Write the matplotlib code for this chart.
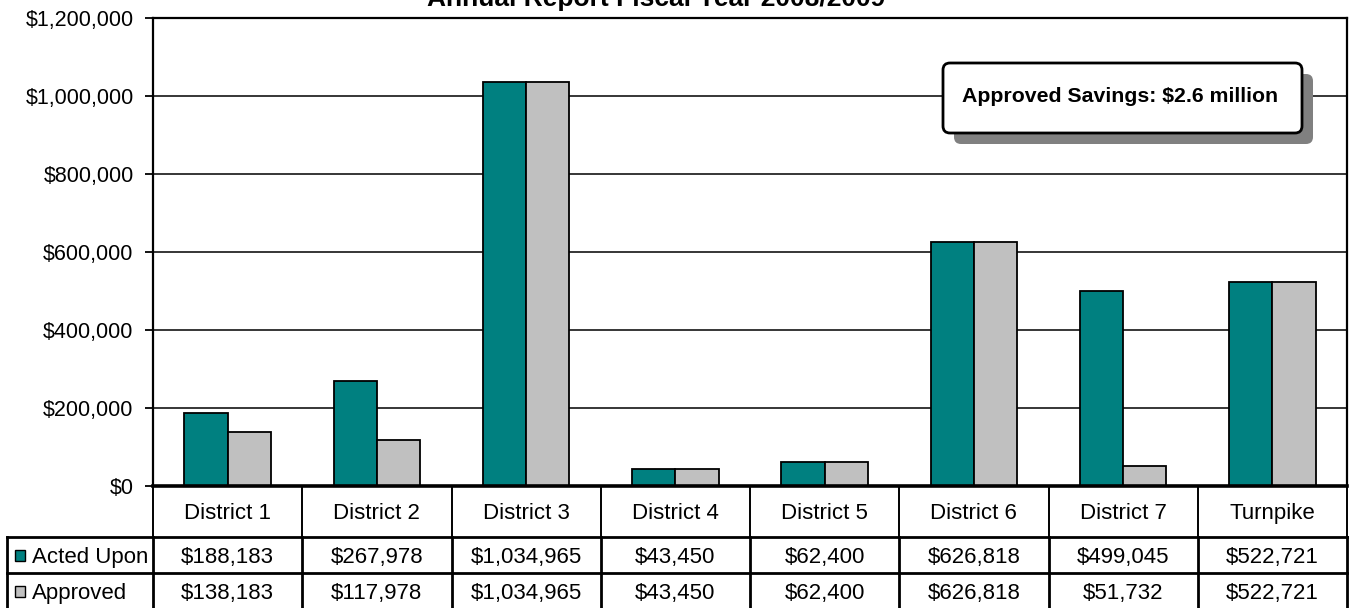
import matplotlib
matplotlib.use("Agg")
import matplotlib.pyplot as plt
import numpy as np
from matplotlib.patches import FancyBboxPatch, Rectangle
from matplotlib.lines import Line2D
from matplotlib.transforms import blended_transform_factory
from matplotlib.ticker import FuncFormatter, MultipleLocator

categories = ["District 1", "District 2", "District 3", "District 4",
              "District 5", "District 6", "District 7", "Turnpike"]
acted_upon = [188183, 267978, 1034965, 43450, 62400, 626818, 499045, 522721]
approved = [138183, 117978, 1034965, 43450, 62400, 626818, 51732, 522721]
series_names = ["Acted Upon", "Approved"]
title = "Annual Report Fiscal Year 2008/2009"
note = "Approved Savings: $2.6 million"

TEAL = "#008080"
GREY = "#C0C0C0"

plt.rcParams['font.family'] = ['Liberation Sans', 'DejaVu Sans']

W, H = 1353, 608
fig = plt.figure(figsize=(W / 100, H / 100), dpi=100)

def fy(py):  # pixel from top -> figure fraction
    return (H - py) / H

def fx(px):
    return px / W

ax_l, ax_r, ax_t, ax_b = 153, 1347, 18, 486
ax = fig.add_axes([fx(ax_l), fy(ax_b), fx(ax_r - ax_l), (ax_b - ax_t) / H])

x = np.arange(len(categories))
bw = 0.29
ax.bar(x - bw / 2, acted_upon, bw, color=TEAL, edgecolor="black", linewidth=1.3, zorder=3)
ax.bar(x + bw / 2, approved, bw, color=GREY, edgecolor="black", linewidth=1.3, zorder=3)

ax.set_xlim(-0.5, len(categories) - 0.5)
ax.set_ylim(0, 1200000)
ax.yaxis.set_major_locator(MultipleLocator(200000))
ax.yaxis.set_major_formatter(FuncFormatter(lambda v, p: "${:,.0f}".format(v)))
ax.set_xticks([])
ax.tick_params(axis='y', direction='out', length=6, width=1.3, labelsize=15.5, pad=8)
ax.grid(axis='y', color='black', linewidth=1.1, zorder=1)
ax.set_axisbelow(True)
for s in ['left', 'top', 'right']:
    ax.spines[s].set_linewidth(1.6)
ax.spines['bottom'].set_linewidth(2.6)
ax.spines['bottom'].set_zorder(5)

# Title (partly cut off at top, as in the reference)
fig.text(fx(656), fy(6), title, ha='center', va='baseline',
         fontsize=19, fontweight='bold')

# Annotation box with shadow (pixel -> inches)
def inch_x(px):
    return px / 100

def inch_y(py):
    return (H - py) / 100

bx0, bx1, by0, by1 = 943, 1302, 63, 133
sh = 11
shadow = FancyBboxPatch((inch_x(bx0 + sh), inch_y(by1 + sh)), (bx1 - bx0) / 100, (by1 - by0) / 100,
                        boxstyle="round,pad=0,rounding_size=0.07",
                        transform=fig.dpi_scale_trans, facecolor="#808080",
                        edgecolor="none", zorder=10)
box = FancyBboxPatch((inch_x(bx0), inch_y(by1)), (bx1 - bx0) / 100, (by1 - by0) / 100,
                     boxstyle="round,pad=0,rounding_size=0.07",
                     transform=fig.dpi_scale_trans, facecolor="white",
                     edgecolor="black", linewidth=2.0, zorder=11)
fig.add_artist(shadow)
fig.add_artist(box)
fig.text(fx((bx0 + bx1) / 2 - 2), fy(96), note, ha='center', va='center',
         fontsize=15.3, fontweight='bold', zorder=12)

# Data table below the axes
tr = blended_transform_factory(ax.transData, fig.transFigure)
hdr_bot, row1_bot, row2_bot = 537, 573, 609
lab_left = 7
TFS = 16

def fig_line(xs, ys, lw=2.0):
    fig.add_artist(Line2D([fx(v) for v in xs], [fy(v) for v in ys],
                          transform=fig.transFigure, color='black', linewidth=lw,
                          solid_capstyle='projecting', zorder=6))

# horizontal lines
fig_line([lab_left, ax_r], [hdr_bot, hdr_bot], lw=2.0)
fig_line([lab_left, ax_r], [row1_bot, row1_bot], lw=2.0)
# row label box left edge
fig_line([lab_left, lab_left], [hdr_bot, H + 2], lw=2.0)
# vertical category boundaries (from axes scale)
for k in range(len(categories) + 1):
    xb = k - 0.5
    fig.add_artist(Line2D([xb, xb], [fy(ax_b), fy(hdr_bot)], transform=tr,
                          color='black', linewidth=1.4, zorder=6))
    fig.add_artist(Line2D([xb, xb], [fy(hdr_bot), fy(H + 2)], transform=tr,
                          color='black', linewidth=2.0, zorder=6))

# header texts and values
for i, cat in enumerate(categories):
    fig.text(x[i], fy((ax_b + hdr_bot) / 2 + 2), cat, transform=tr, ha='center',
             va='center', fontsize=TFS)
    fig.text(x[i], fy((hdr_bot + row1_bot) / 2 + 2), "${:,}".format(acted_upon[i]),
             transform=tr, ha='center', va='center', fontsize=TFS)
    fig.text(x[i], fy((row1_bot + row2_bot) / 2 + 2), "${:,}".format(approved[i]),
             transform=tr, ha='center', va='center', fontsize=TFS)

# row labels with legend keys
for j, (name, col) in enumerate(zip(series_names, [TEAL, GREY])):
    top = hdr_bot if j == 0 else row1_bot
    cy = top + 18
    fig.add_artist(Rectangle((fx(15), fy(cy + 6)), fx(10), 11 / H,
                             transform=fig.transFigure, facecolor=col,
                             edgecolor='black', linewidth=1.0, zorder=7))
    fig.text(fx(32), fy(cy + 2), name, ha='left', va='center', fontsize=TFS)

fig.savefig("out.png", dpi=100)
